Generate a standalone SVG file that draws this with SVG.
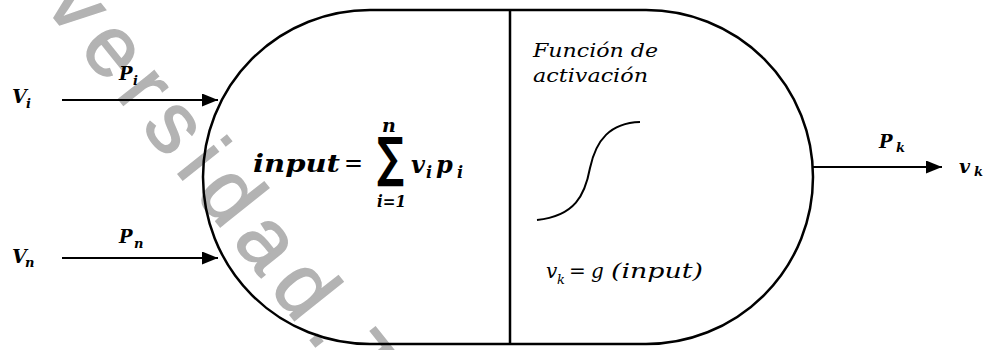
<svg xmlns="http://www.w3.org/2000/svg" width="990" height="350" viewBox="0 0 990 350">
<defs>
<style>
.wm{font-family:"Liberation Sans",Arial,sans-serif;fill:#b3b3b3;stroke:#b3b3b3;stroke-width:1.5}
.m{font-family:"DejaVu Serif","Liberation Serif",serif;font-weight:bold;font-style:italic;fill:#000}
.it{font-family:"DejaVu Serif","Liberation Serif",serif;font-style:italic;fill:#000}
.ln{stroke:#000;stroke-width:2;fill:none}
.ol{stroke:#000;stroke-width:2.5;fill:none}
</style>
<marker id="ah" markerUnits="userSpaceOnUse" markerWidth="16" markerHeight="13" refX="16" refY="6.5" orient="auto">
<path d="M0,0 L16,6.5 L0,13 Z" fill="#000"/>
</marker>
</defs>
<rect width="990" height="350" fill="#fff"/>
<text class="wm" transform="translate(43.5,4.7) rotate(51.5)" font-size="86" letter-spacing="12">versidad.T</text>

<g id="neuron">
<path class="ol" d="M370,10 L646,10 A167,167 0 0 1 646,344 L370,344 A167,167 0 0 1 370,10 Z"/>
<line class="ol" x1="510" y1="10" x2="510" y2="344"/>
</g>

<g id="connectors">
<line class="ln" x1="62" y1="100" x2="218" y2="100" marker-end="url(#ah)"/>
<line class="ln" x1="62" y1="258" x2="218" y2="258" marker-end="url(#ah)"/>
<line class="ln" x1="813" y1="167" x2="942" y2="167" marker-end="url(#ah)"/>
</g>

<g id="input-labels">
<text class="m" x="12" y="103" font-size="19">V</text><text class="m" x="26" y="108" font-size="13">i</text>
<text class="m" x="119" y="80" font-size="18">P</text><text class="m" x="133" y="85" font-size="13">i</text>
<text class="m" x="12" y="263" font-size="19">V</text><text class="m" x="25" y="267" font-size="13">n</text>
<text class="m" x="119" y="243" font-size="18">P</text><text class="m" x="134" y="248" font-size="13">n</text>
</g>

<g id="output-labels">
<text class="m" x="879" y="148" font-size="18">P</text><text class="m" x="896" y="152" font-size="13">k</text>
<text class="m" x="959" y="173" font-size="19">v</text><text class="m" x="974" y="176" font-size="13">k</text>
</g>

<g id="sum-part">
<text class="m" x="253" y="172" font-size="25" textLength="87" lengthAdjust="spacingAndGlyphs">input</text>
<text font-family="DejaVu Serif,serif" font-size="26" x="344" y="172" textLength="19" lengthAdjust="spacingAndGlyphs">=</text>
<text font-family="DejaVu Sans,sans-serif" font-weight="bold" font-size="40" transform="translate(377,176) scale(1,1.35)" textLength="27" lengthAdjust="spacingAndGlyphs">∑</text>
<text class="m" x="382" y="132" font-size="19">n</text>
<text class="m" x="377" y="207" font-size="17" textLength="29" lengthAdjust="spacingAndGlyphs">i=1</text>
<text class="m" x="411" y="173" font-size="24">v</text><text class="m" x="426" y="178" font-size="16">i</text>
<text class="m" x="436" y="173" font-size="24">p</text><text class="m" x="457" y="178" font-size="16">i</text>
</g>

<g id="activation-part">
<text class="it" x="533" y="57" font-size="18" textLength="125" lengthAdjust="spacingAndGlyphs">Función de</text>
<text class="it" x="533" y="82" font-size="18" textLength="115" lengthAdjust="spacingAndGlyphs">activación</text>
<path class="ln" d="M537,220 C575,216 585,195 590,168 C596,140 610,123 640,122"/>
<text class="it" x="546" y="278" font-size="20">v</text><text class="it" x="557" y="284" font-size="13">k</text>
<text class="it" x="569" y="278" font-size="20">=</text>
<text class="it" x="591" y="278" font-size="20">g</text>
<text class="it" x="611" y="278" font-size="20" textLength="92" lengthAdjust="spacingAndGlyphs">(input)</text>
</g>
</svg>
